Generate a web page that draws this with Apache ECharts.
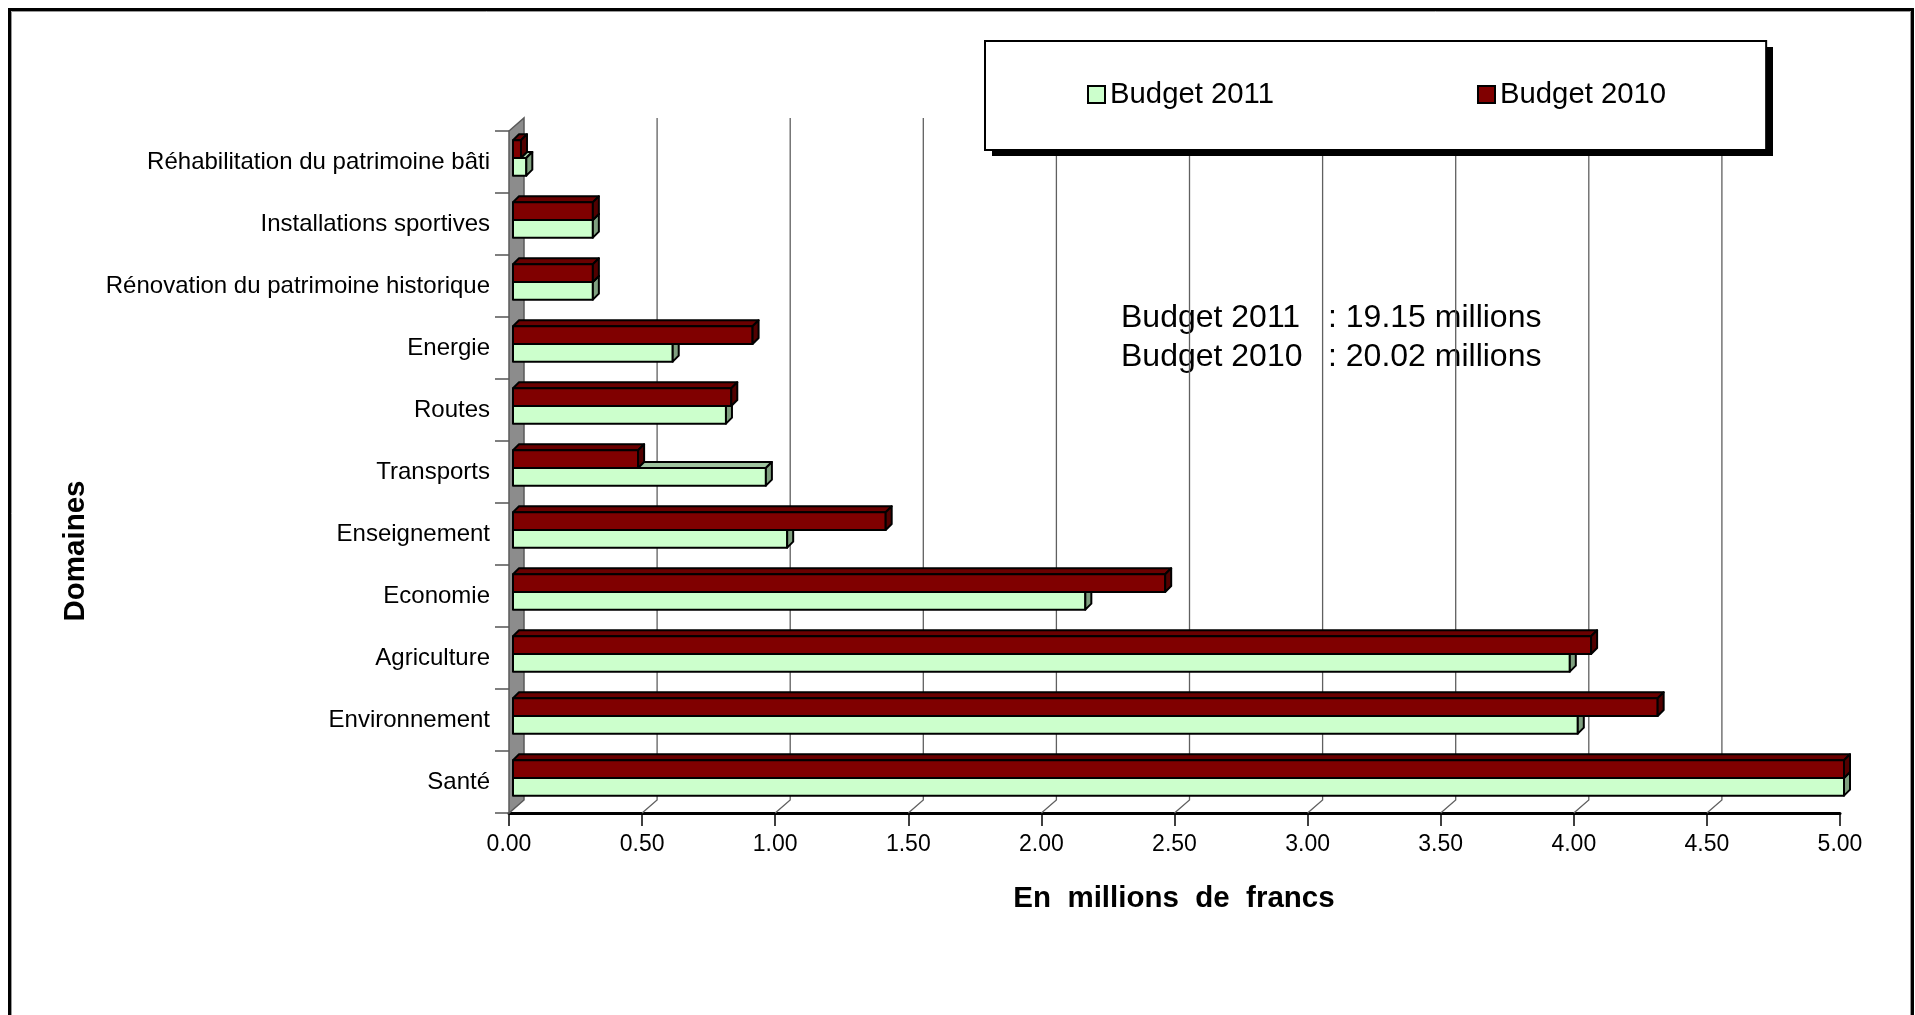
<!DOCTYPE html>
<html>
<head>
<meta charset="utf-8">
<script src="https://cdn.jsdelivr.net/npm/echarts@6/dist/echarts.min.js"></script>
<style>
  html, body { margin: 0; padding: 0; background: #fff; }
  #chart { width: 1915px; height: 1015px; }
</style>
</head>
<body>
<div id="chart"></div>
<script>
// Domaines, listed top to bottom
const categories = [
  'Réhabilitation du patrimoine bâti',
  'Installations sportives',
  'Rénovation du patrimoine historique',
  'Energie',
  'Routes',
  'Transports',
  'Enseignement',
  'Economie',
  'Agriculture',
  'Environnement',
  'Santé'
];
// En millions de francs
const budget2011 = [0.05, 0.30, 0.30, 0.60, 0.80, 0.95, 1.03, 2.15, 3.97, 4.00, 5.00];
const budget2010 = [0.03, 0.30, 0.30, 0.90, 0.82, 0.47, 1.40, 2.45, 4.05, 4.30, 5.00];
const xTicks = [0, 0.5, 1, 1.5, 2, 2.5, 3, 3.5, 4, 4.5, 5];

const FONT = '"Liberation Sans", Arial, sans-serif';
const WALL_DX = 15, WALL_DY = -13;   // depth of the back wall
const BAR_DX = 6, BAR_DY = -6;       // depth of each bar
const BAR_SHIFT = 4;                 // bars sit a little behind the front plane

const total = arr => arr.reduce((a, b) => a + b, 0);

// back wall, grid lines and floor lines
function renderWall(params, api) {
  const cs = params.coordSys;
  const top = cs.y, bottom = cs.y + cs.height;
  const v = api.value(0);
  const x = api.coord([v, 0])[0];
  if (params.dataIndex === 0) {
    return {
      type: 'polygon',
      shape: { points: [[x, top], [x + WALL_DX, top + WALL_DY], [x + WALL_DX, bottom + WALL_DY], [x, bottom]] },
      style: { fill: '#8c8c8c', stroke: '#5a5a5a', lineWidth: 1.5 }
    };
  }
  if (params.dataIndex === xTicks.length - 1) {
    return null; // the far edge carries no grid line
  }
  return {
    type: 'polyline',
    shape: { points: [[x + WALL_DX, top + WALL_DY], [x + WALL_DX, bottom + WALL_DY], [x, bottom]] },
    style: { fill: null, stroke: '#606060', lineWidth: 1.3 }
  };
}

// 3D box bar; slot 0 is the upper bar of a pair, slot 1 the lower one
function boxBar(slot, front, topFace, side) {
  return function (params, api) {
    const v = api.value(0), c = api.value(1);
    const p0 = api.coord([0, c]);
    const p1 = api.coord([v, c]);
    const band = api.size([0, 1])[1];
    const h = band * 0.285;
    const joint = p0[1] - band * 0.065;
    const y0 = slot === 0 ? joint - h : joint;
    const y1 = y0 + h;
    const x0 = p0[0] + BAR_SHIFT, x1 = p1[0] + BAR_SHIFT;
    const line = { stroke: '#000', lineWidth: 2, lineJoin: 'round' };
    return {
      type: 'group',
      children: [
        { type: 'polygon', shape: { points: [[x0, y0], [x0 + BAR_DX, y0 + BAR_DY], [x1 + BAR_DX, y0 + BAR_DY], [x1, y0]] },
          style: Object.assign({ fill: topFace }, line) },
        { type: 'rect', shape: { x: x0, y: y0, width: x1 - x0, height: h },
          style: Object.assign({ fill: front }, line) },
        { type: 'polygon', shape: { points: [[x1, y0], [x1 + BAR_DX, y0 + BAR_DY], [x1 + BAR_DX, y1 + BAR_DY], [x1, y1]] },
          style: Object.assign({ fill: side }, line) }
      ]
    };
  };
}

const chart = echarts.init(document.getElementById('chart'), null, { renderer: 'canvas' });

chart.setOption({
  backgroundColor: '#fff',
  animation: false,
  textStyle: { fontFamily: FONT },
  grid: { left: 509, right: 75, top: 131, bottom: 202 },
  xAxis: {
    type: 'value', min: 0, max: 5, interval: 0.5,
    axisLine: { show: true, lineStyle: { color: '#000', width: 3 } },
    axisTick: { show: true, length: 13, lineStyle: { color: '#000', width: 1.5 } },
    axisLabel: { formatter: v => v.toFixed(2), fontSize: 23, margin: 20, color: '#000', fontFamily: FONT },
    splitLine: { show: false }
  },
  yAxis: {
    type: 'category', data: categories, inverse: true,
    axisLine: { show: false },
    axisTick: { show: true, length: 14, lineStyle: { color: '#555', width: 1.5 } },
    axisLabel: { fontSize: 24, margin: 19, color: '#000', fontFamily: FONT }
  },
  legend: {
    data: ['Budget 2011', 'Budget 2010'],
    left: 985, top: 41,
    orient: 'horizontal',
    padding: [39, 100, 41, 102],
    itemGap: 203,
    itemWidth: 17, itemHeight: 17,
    icon: 'rect',
    backgroundColor: '#fff',
    borderColor: '#000', borderWidth: 2,
    itemStyle: { borderColor: '#000', borderWidth: 2 },
    textStyle: { fontSize: 29.3, color: '#000', fontFamily: FONT },
    selectedMode: false
  },
  series: [
    {
      name: 'wall', type: 'custom', silent: true, z: 1,
      renderItem: renderWall,
      data: xTicks.map(v => [v, 0]),
      encode: { x: 0, y: 1 }
    },
    {
      name: 'Budget 2011', type: 'custom', z: 2,
      itemStyle: { color: '#ccffcc', borderColor: '#000', borderWidth: 2 },
      renderItem: boxBar(1, '#ccffcc', '#9fc49f', '#7fa07f'),
      data: budget2011.map((v, i) => [v, i]),
      encode: { x: 0, y: 1 }
    },
    {
      name: 'Budget 2010', type: 'custom', z: 3,
      itemStyle: { color: '#800000', borderColor: '#000', borderWidth: 2 },
      renderItem: boxBar(0, '#800000', '#6a0000', '#520000'),
      data: budget2010.map((v, i) => [v, i]),
      encode: { x: 0, y: 1 }
    }
  ],
  graphic: [
    // outer frame
    { type: 'rect', silent: true, shape: { x: 9.5, y: 9.5, width: 1903, height: 1020 },
      style: { fill: null, stroke: '#000', lineWidth: 3 } },
    { type: 'rect', silent: true, shape: { x: 11.5, y: 11.5, width: 1899, height: 1016 },
      style: { fill: null, stroke: '#999', lineWidth: 1 } },
    // drop shadow behind the legend box
    { type: 'rect', silent: true, z: 3.5, shape: { x: 992, y: 47, width: 781, height: 109 },
      style: { fill: '#000' } },
    // totals
    { type: 'text', x: 1121, y: 318, style: { text: 'Budget 2011', font: '32px ' + FONT, fill: '#000', verticalAlign: 'middle' } },
    { type: 'text', x: 1328, y: 318, style: { text: ': ' + total(budget2011).toFixed(2) + ' millions', font: '32px ' + FONT, fill: '#000', verticalAlign: 'middle' } },
    { type: 'text', x: 1121, y: 357, style: { text: 'Budget 2010', font: '32px ' + FONT, fill: '#000', verticalAlign: 'middle' } },
    { type: 'text', x: 1328, y: 357, style: { text: ': ' + total(budget2010).toFixed(2) + ' millions', font: '32px ' + FONT, fill: '#000', verticalAlign: 'middle' } },
    // axis titles
    { type: 'text', x: 1174, y: 899, style: { text: 'En  millions  de  francs', font: 'bold 29.5px ' + FONT, fill: '#000', align: 'center', verticalAlign: 'middle' } },
    { type: 'text', x: 76, y: 551, rotation: Math.PI / 2, style: { text: 'Domaines', font: 'bold 29.5px ' + FONT, fill: '#000', align: 'center', verticalAlign: 'middle' } }
  ]
});
</script>
</body>
</html>
